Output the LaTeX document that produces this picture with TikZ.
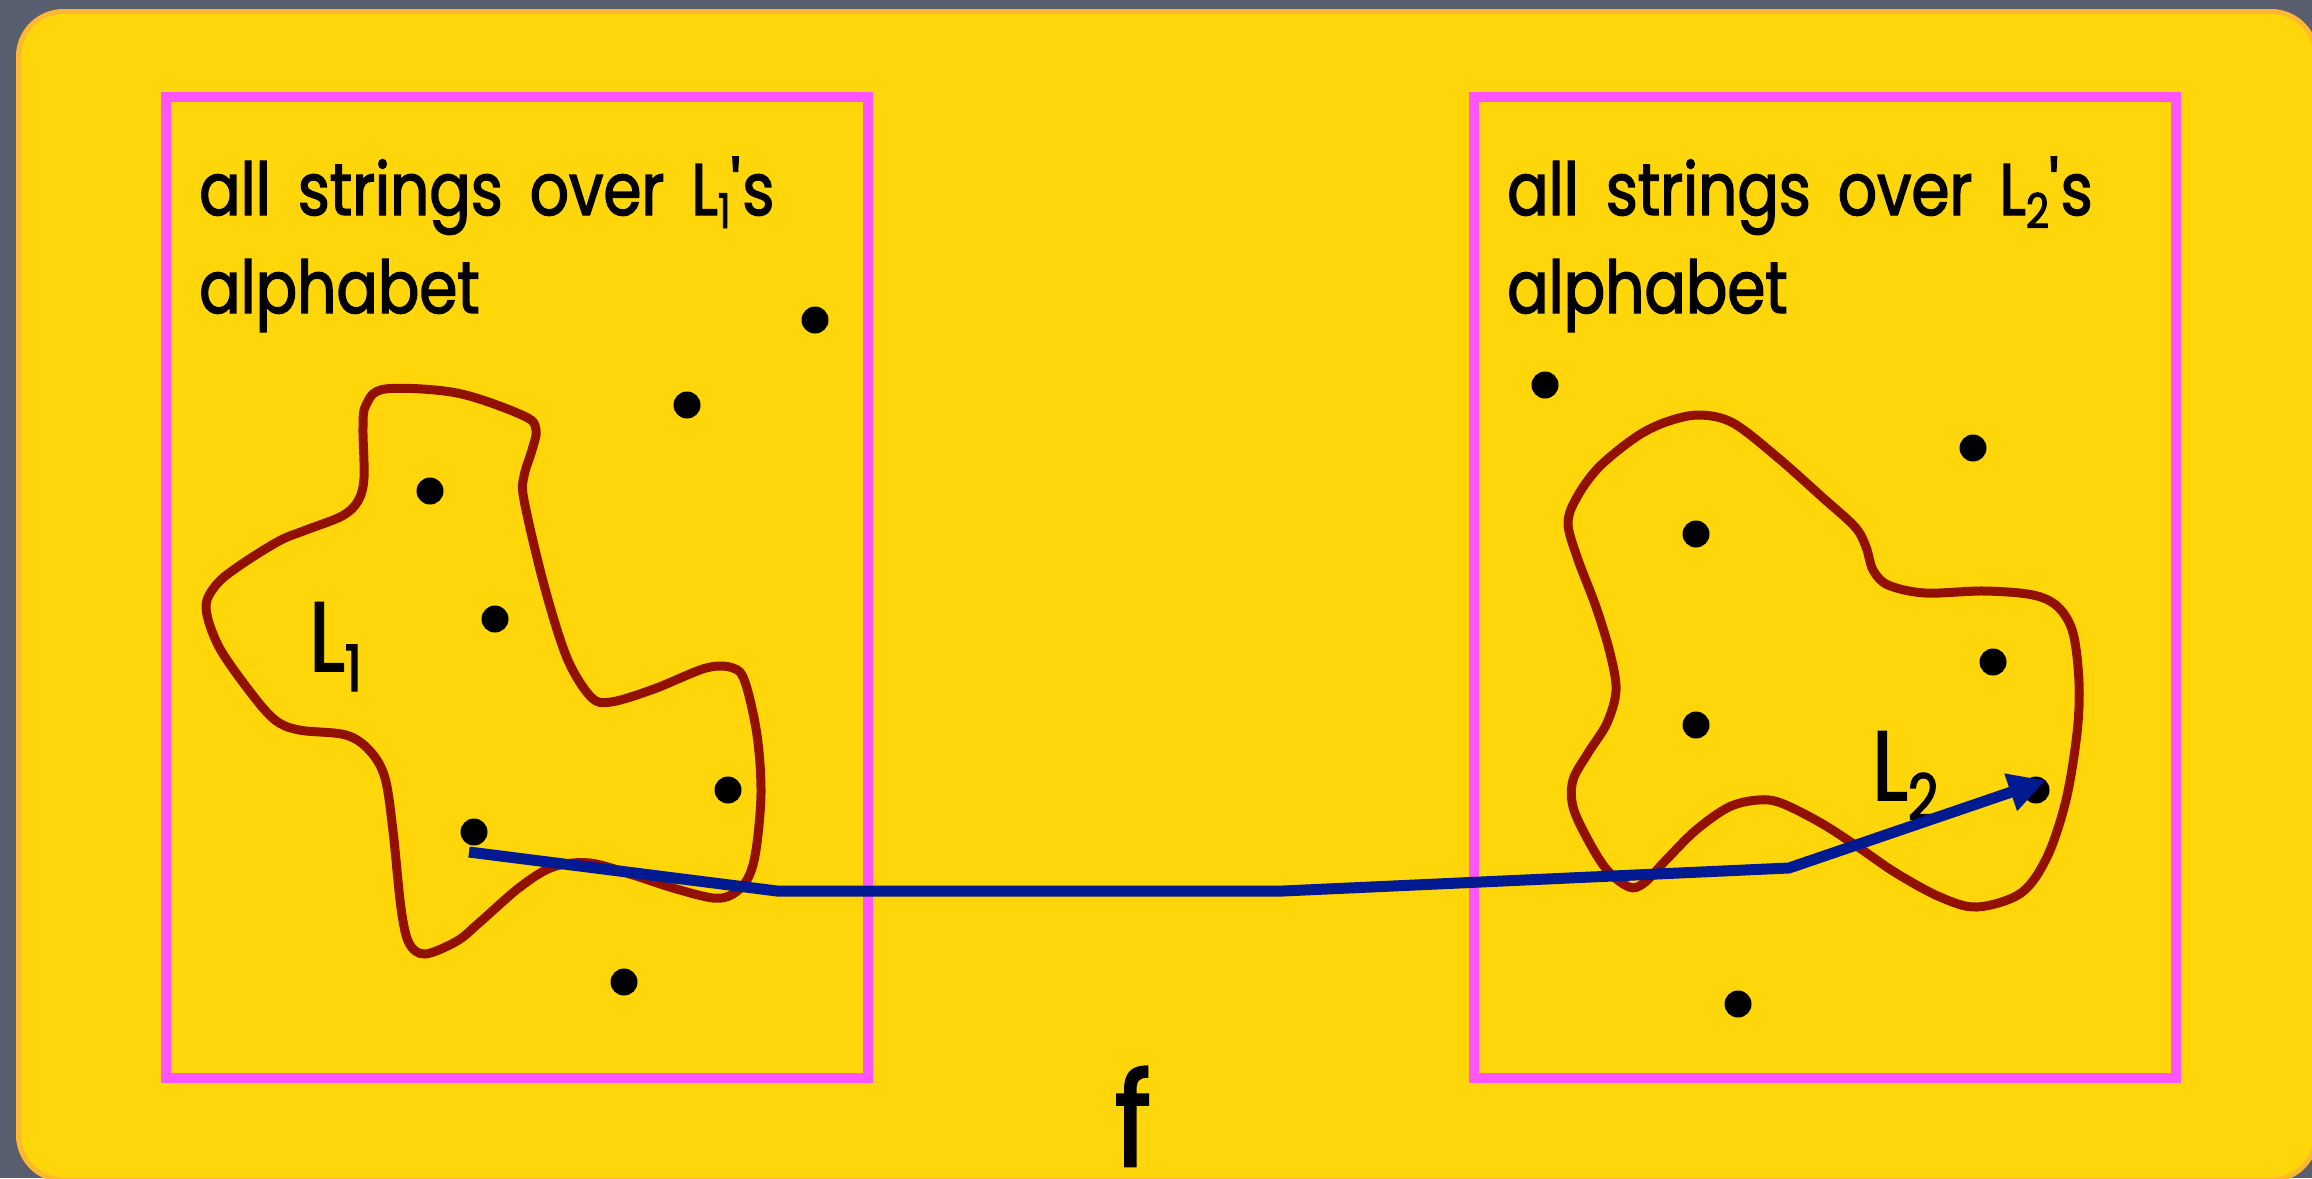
\documentclass[tikz,border=0pt]{standalone}
\usepackage{fontspec}
\setmainfont{Poppins}[FakeBold=2, FakeStretch=0.84]
\usetikzlibrary{arrows.meta}
\definecolor{bgslate}{RGB}{88,94,110}
\definecolor{slideyellow}{RGB}{255,214,10}
\definecolor{slideorange}{RGB}{255,184,48}
\definecolor{boxpink}{RGB}{255,85,255}
\definecolor{blobred}{RGB}{145,16,0}
\definecolor{arrowblue}{RGB}{0,26,145}
\newcommand\txtsub[1]{\raisebox{-13pt}{\fontsize{48}{48}\selectfont #1}}
\newcommand\lblsub[1]{\raisebox{-20pt}{\fontsize{64}{64}\selectfont #1}}
\newcommand\wsp{\hspace{27pt}}
\tikzset{
  pinkbox/.style={draw=boxpink, line width=10pt},
  blob/.style={draw=blobred, line width=9pt},
  dotnode/.style={circle, fill=black, minimum size=27pt, inner sep=0pt},
  bodytext/.style={anchor=base west, inner sep=0pt, font=\fontsize{73}{73}\selectfont},
  lbltext/.style={anchor=base west, inner sep=0pt, font=\fontsize{98}{98}\selectfont},
  maplink/.style={draw=arrowblue, line width=11pt, -{Triangle[length=37pt,width=37pt]}},
}
\begin{document}
\begin{tikzpicture}[x=1pt,y=-1pt]
\useasboundingbox (0,0) rectangle (2312,1178);
\fill[bgslate] (0,0) rectangle (2312,1178);
\draw[fill=slideyellow, draw=slideorange, line width=5pt, rounded corners=45pt] (18.5,11.5) rectangle (2316,1180);
% boxes
\draw[pinkbox] (165.5,96.5) rectangle (867.5,1077.5);
\draw[pinkbox] (1474,96.5) rectangle (2176,1077.5);
% texts
\node[bodytext] (t1a) at (199,215) {all\wsp strings\wsp over\wsp L\txtsub{1}\textquotesingle s};
\node[bodytext] (t1b) at (199,313) {alphabet};
\node[bodytext] (t2a) at (1507,215) {all\wsp strings\wsp over\wsp L\txtsub{2}\textquotesingle s};
\node[bodytext] (t2b) at (1507,313) {alphabet};
% blobs
\draw[blob] plot[smooth cycle, tension=0.55] coordinates {
 (385,389) (457,393) (524,416) (536,430) (532,450) (524,476) (524,500) (544,585)
 (567,658) (591,697) (611,702) (654,689) (706,668) (733,668) (745,682) (757,735)
 (761,793) (756,850) (748,878) (733,894) (713,898) (673,888) (633,875) (590,863)
 (553,867) (520,887) (480,922) (457,941) (425,954) (409,943) (401,908) (393,831)
 (385,778) (370,751) (346,735) (299,730) (275,720) (251,693) (219,647) (206,608)
 (216,585) (239,566) (279,541) (306,530) (342,516) (358,501) (364,478) (363,428)
 (366,405)};
\draw[blob] plot[smooth cycle, tension=0.55] coordinates {
 (1699,415) (1733,423) (1777,457) (1822,497) (1855,527) (1866,547) (1873,570)
 (1888,585) (1925,593) (1984,591) (2033,595) (2058,607) (2073,633) (2079,683)
 (2077,733) (2066,800) (2047,857) (2021,893) (1977,907) (1940,897) (1896,873)
 (1858,847) (1821,823) (1781,803) (1758,800) (1729,807) (1696,830) (1666,860)
 (1644,883) (1629,887) (1607,870) (1588,840) (1573,807) (1573,780) (1588,753)
 (1607,723) (1616,690) (1610,653) (1596,607) (1577,557) (1568,523) (1577,497)
 (1599,467) (1636,437) (1666,422)};
% labels
\node[lbltext] (lab1) at (309,671) {L\lblsub{1}};
\node[lbltext] (lab2) at (1872,800) {L\lblsub{2}};
\node[anchor=base, inner sep=0pt, font=\fontsize{130}{130}\selectfont] (fn) at (1133,1166) {f};
% dots left
\node[dotnode] (l1) at (815,320) {};
\node[dotnode] (l2) at (687,405) {};
\node[dotnode] (l3) at (430,491) {};
\node[dotnode] (l4) at (495,619) {};
\node[dotnode] (l5) at (728,790) {};
\node[dotnode] (l6) at (474,832) {};
\node[dotnode] (l7) at (624,982) {};
% dots right
\node[dotnode] (r1) at (1545,385) {};
\node[dotnode] (r2) at (1973,448) {};
\node[dotnode] (r3) at (1696,534) {};
\node[dotnode] (r4) at (1993,662) {};
\node[dotnode] (r5) at (1696,725) {};
\node[dotnode] (r6) at (2036,790) {};
\node[dotnode] (r7) at (1738,1004) {};
% mapping arrow
\coordinate (mstart) at (469,852);
\coordinate (mb1) at (777,891);
\coordinate (mb2) at (1283,891);
\coordinate (mb3) at (1789,868);
\draw[maplink] (mstart) -- (mb1) -- (mb2) -- (mb3) -- (r6.north east);
\end{tikzpicture}
\end{document}
